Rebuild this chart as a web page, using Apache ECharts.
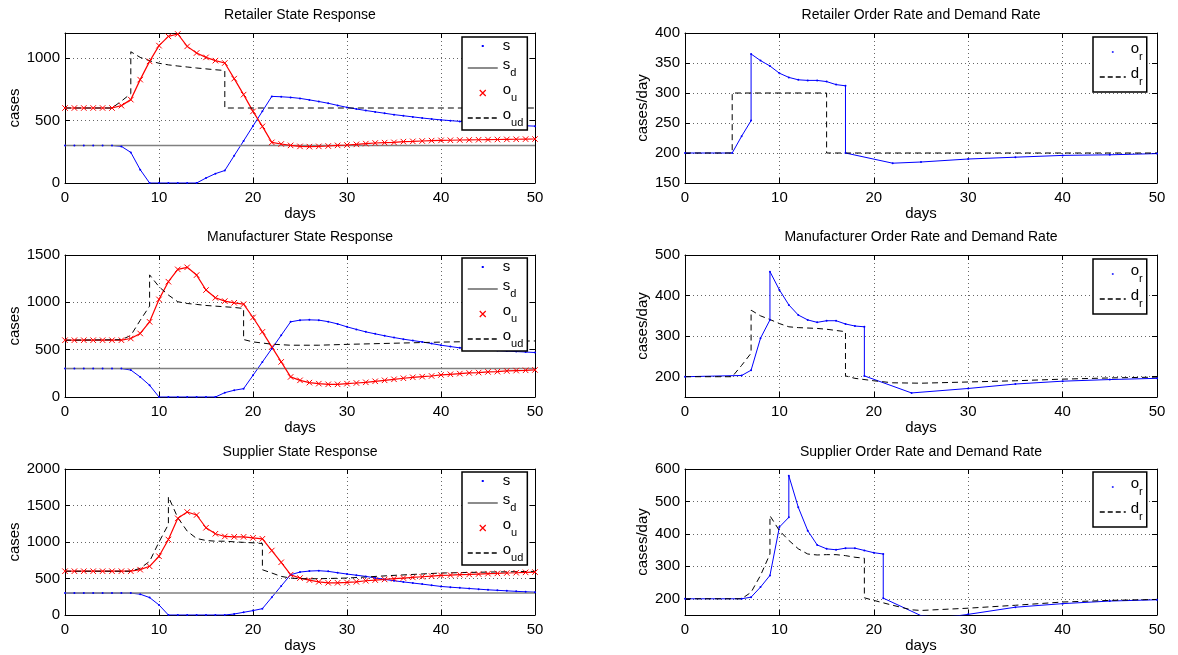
<!DOCTYPE html>
<html>
<head>
<meta charset="utf-8">
<script src="https://cdn.jsdelivr.net/npm/echarts@6/dist/echarts.min.js"></script>
<style>html,body{margin:0;padding:0;background:#fff}#c{width:1178px;height:655px}</style>
</head>
<body>
<div id="c"></div>
<script>
const FONT = '"Liberation Sans", Arial, Helvetica, sans-serif';

// ---------- shared axes data ----------
const days = [0,1,2,3,4,5,6,7,8,9,10,11,12,13,14,15,16,17,18,19,20,21,22,23,24,25,26,27,28,29,30,31,32,33,34,35,36,37,38,39,40,41,42,43,44,45,46,47,48,49,50];
const xTicks = [0,10,20,30,40,50];
const sdX = [0,50];
const sdLevel = [300,300];

// ---------- Retailer ----------
const retStateTicks = [0,500,1000];
const retS  = [300,300,300,300,300,300,293,245,107,0,0,0,0,0,0,40,75,100,219,337,456,574,693,690,685,677,665,652,638,621,605,592,580,569,558,547,538,529,520,512,505,499,493,487,481,475,470,466,462,458,455];
const retOu = [600,600,600,600,600,600,619,667,827,973,1099,1173,1192,1093,1040,1005,979,960,835,707,573,453,325,312,301,293,291,293,296,301,304,309,315,320,323,325,331,333,336,339,341,342,344,345,346,347,348,349,350,351,352];
const retOudX = [0,5,6,7,7,8,9,10,11,12,13,14,15,16,17,17,50];
const retOudY = [600,600,655,715,1050,1005,978,958,945,936,928,920,913,906,900,600,600];
const retRateTicks = [150,200,250,300,350,400];
const retOrX = [0,5,6,7,7,8,9,10,11,12,13,14,15,16,17,17,22,25,30,35,40,45,50];
const retOrY = [200,200,228,254,365,354,345,333,326,322,321,321,319,314,312,200,183,185,190,193,196,197,199];
const retDrX = [0,5,5,15,15,50];
const retDrY = [200,200,300,300,200,200];

// ---------- Manufacturer ----------
const manStateTicks = [0,500,1000,1500];
const manS  = [300,300,300,300,300,300,300,285,212,124,0,0,0,0,0,0,0,46,71,88,229,370,511,652,794,812,815,812,796,772,741,714,688,667,647,628,611,596,582,564,547,533,519,511,503,496,490,485,480,475,470];
const manOu = [600,600,600,600,600,600,600,618,671,794,1031,1218,1348,1370,1288,1130,1048,1013,995,981,840,688,529,371,212,176,152,141,134,134,141,148,155,166,176,187,198,208,215,222,233,240,247,254,258,265,268,275,279,282,286];
const manOudX = [0,6,7,8,9,9,10,11,12,13,14,15,16,17,18,19,19,20,22,24,27,30,35,40,45,50];
const manOudY = [600,605,650,810,960,1290,1165,1077,1006,988,978,967,960,953,946,935,607,582,558,547,547,556,568,580,588,592];
const manRateTicks = [200,300,400,500];
const manOrX = [0,6,7,8,9,9,10,11,12,13,14,15,16,17,18,19,19,24,30,35,40,45,50];
const manOrY = [200,203,216,295,340,459,414,377,352,340,334,338,338,330,325,323,202,160,171,182,189,193,196];
const manDrX = [0,5,6,7,7,8,9,10,11,12,13,14,15,16,17,17,18,20,22,25,30,35,40,45,50];
const manDrY = [200,200,228,258,364,350,341,331,323,321,320,319,317,314,311,202,196,190,185,184,187,190,194,197,199];

// ---------- Supplier ----------
const supStateTicks = [0,500,1000,1500,2000];
const supS  = [300,300,300,300,300,300,300,300,285,239,138,0,0,0,0,0,0,0,14,37,60,87,242,397,552,588,602,607,598,579,561,545,529,508,488,469,453,438,423,407,391,381,372,363,354,345,338,331,324,318,313];
const supOu = [600,600,600,600,600,600,600,600,621,667,805,1034,1324,1411,1370,1195,1113,1076,1071,1071,1057,1044,883,722,552,506,478,455,441,441,446,455,469,478,487,497,506,515,524,533,543,547,552,556,561,566,570,575,579,584,588];
const supOudX = [0,7,8,9,10,11,11,12,13,14,15,16,17,18,19,20,21,21,22,23,24,25,27,30,35,40,45,50];
const supOudY = [600,600,640,735,1000,1241,1620,1333,1149,1048,1021,1011,1011,1002,995,989,979,620,575,529,506,497,497,506,543,575,588,598];
const supRateTicks = [200,300,400,500,600];
const supOrX = [0,6,7,8,9,10,11,11,12,13,14,15,16,17,18,19,20,21,21,25,26,27,28,29,30,35,40,45,50];
const supOrY = [200,200,205,236,272,421,451,579,482,410,366,354,351,356,356,349,342,338,202,148,145,144,145,148,152,174,185,193,197];
const supDrX = [0,6,7,8,9,9,10,11,12,13,14,15,16,17,18,19,19,20,22,24,25,30,35,40,45,50];
const supDrY = [200,200,220,272,338,456,410,380,354,338,335,336,336,333,328,325,203,195,180,166,164,171,180,190,195,198];

// ---------- layout (not data) ----------
const L = {left:65, right:685, wL:470, wR:472};
const rows = [{top:33,h:150,tg:11,lt:37,rt:37},{top:255,h:142,tg:11,lt:258,rt:259},{top:469,h:146,tg:10,lt:472,rt:472}];

const panels = [
  {title:'Retailer State Response', col:0, row:0, yName:'cases', yMin:0, yMax:1200, yTicks:retStateTicks,
   series:[['s','dot',days,retS],['s_d','ref',sdX,sdLevel],['o_u','cross',days,retOu],['o_ud','dash',retOudX,retOudY]]},
  {title:'Retailer Order Rate and Demand Rate', col:1, row:0, yName:'cases/day', yMin:150, yMax:400, yTicks:retRateTicks,
   series:[['o_r','dot',retOrX,retOrY],['d_r','dash',retDrX,retDrY]]},
  {title:'Manufacturer State Response', col:0, row:1, yName:'cases', yMin:0, yMax:1500, yTicks:manStateTicks,
   series:[['s','dot',days,manS],['s_d','ref',sdX,sdLevel],['o_u','cross',days,manOu],['o_ud','dash',manOudX,manOudY]]},
  {title:'Manufacturer Order Rate and Demand Rate', col:1, row:1, yName:'cases/day', yMin:150, yMax:500, yTicks:manRateTicks,
   series:[['o_r','dot',manOrX,manOrY],['d_r','dash',manDrX,manDrY]]},
  {title:'Supplier State Response', col:0, row:2, yName:'cases', yMin:0, yMax:2000, yTicks:supStateTicks,
   series:[['s','dot',days,supS],['s_d','ref',sdX,sdLevel],['o_u','cross',days,supOu],['o_ud','dash',supOudX,supOudY]]},
  {title:'Supplier Order Rate and Demand Rate', col:1, row:2, yName:'cases/day', yMin:150, yMax:600, yTicks:supRateTicks,
   series:[['o_r','dot',supOrX,supOrY],['d_r','dash',supDrX,supDrY]]}
];

const X_SYMBOL = 'path://M0,0 L10,10 M10,0 L0,10';
const DOT_ICON = 'path://M0,0 L0.01,0 M30,10 L29.99,10 M14,4 L16,4 L16,6 L14,6 Z';
const X_ICON = 'path://M0,0 L0.01,0 M30,10 L29.99,10 M12,2 L18,8 M18,2 L12,8';

function seriesStyle(kind){
  if(kind==='dot') return {symbol:'circle', symbolSize:2, showSymbol:true, lineStyle:{color:'#0000ff', width:1}, itemStyle:{color:'#0000ff', borderWidth:0}};
  if(kind==='ref') return {symbol:'none', lineStyle:{color:'#808080', width:1.5}, itemStyle:{color:'#808080'}};
  if(kind==='cross') return {symbol:X_SYMBOL, symbolSize:5.5, showSymbol:true, lineStyle:{color:'#ff0000', width:1.2}, itemStyle:{color:'#ff0000', borderColor:'#ff0000', borderWidth:1}};
  return {symbol:'none', lineStyle:{color:'#000', width:1, type:[6,4]}, itemStyle:{color:'#000'}};
}
function legendItem(name, kind){
  if(kind==='dot') return {name, icon:DOT_ICON, itemStyle:{color:'#0000ff', borderWidth:0}};
  if(kind==='cross') return {name, icon:X_ICON, itemStyle:{color:'transparent', borderColor:'#ff0000', borderWidth:1.2}};
  if(kind==='ref') return {name, itemStyle:{opacity:0}, lineStyle:{color:'#666', width:1.5, type:'solid'}};
  return {name, itemStyle:{opacity:0}, lineStyle:{color:'#000', width:1.5, type:[5,3]}};
}

const txt = {fontFamily:FONT, color:'#000'};
const plain = v => String(v);
const option = {animation:false, backgroundColor:'#fff', grid:[], xAxis:[], yAxis:[], series:[], legend:[]};

panels.forEach((p, gi) => {
  const r = rows[p.row];
  const left = p.col===0 ? L.left : L.right;
  const width = p.col===0 ? L.wL : L.wR;
  option.grid.push({left, top:r.top, width, height:r.h, show:false});
  const axLine = {show:true, onZero:false, lineStyle:{color:'#000', width:1}};
  const tick = vals => ({show:true, inside:true, length:5, lineStyle:{color:'#000', width:1}, customValues:vals});
  const grid = {show:true, lineStyle:{color:'#666', width:1, type:[1,3]}};
  option.xAxis.push({gridIndex:gi, type:'value', position:'bottom', min:0, max:50,
    axisLine:axLine, axisTick:tick(xTicks), splitLine:grid,
    axisLabel:Object.assign({customValues:xTicks, fontSize:15, margin:7, formatter:plain}, txt),
    name:'days', nameLocation:'middle', nameGap:20, nameTextStyle:Object.assign({fontSize:15}, txt)});
  option.xAxis.push({gridIndex:gi, type:'value', position:'top', min:0, max:50,
    axisLine:axLine, axisTick:tick(xTicks), splitLine:{show:false}, axisLabel:{show:false},
    name:p.title, nameLocation:'middle', nameGap:r.tg, nameTextStyle:Object.assign({fontSize:14}, txt)});
  option.yAxis.push({gridIndex:gi, type:'value', position:'left', min:p.yMin, max:p.yMax,
    axisLine:axLine, axisTick:tick(p.yTicks), splitLine:grid,
    axisLabel:Object.assign({customValues:p.yTicks, fontSize:15, margin:5, formatter:plain}, txt),
    name:p.yName, nameLocation:'middle', nameGap:p.col===0?39:35, nameTextStyle:Object.assign({fontSize:15}, txt)});
  option.yAxis.push({gridIndex:gi, type:'value', position:'right', min:p.yMin, max:p.yMax,
    axisLine:axLine, axisTick:tick(p.yTicks), splitLine:{show:false}, axisLabel:{show:false}});
  p.series.forEach(([name, kind, xs, ys]) => {
    option.series.push(Object.assign({type:'line', name, xAxisIndex:2*gi, yAxisIndex:2*gi,
      data: xs.map((x,i)=>[x, ys[i]]), silent:true, clip:true, emphasis:{disabled:true}}, seriesStyle(kind)));
  });
  option.legend.push({
    orient:'vertical', left: p.col===0 ? 462 : 1093, top: p.col===0 ? r.lt : r.rt,
    itemWidth: p.col===0 ? 30 : 26, itemHeight:10, itemGap:4,
    padding: p.col===0 ? [1.5,4,1.5,5] : [4.5,4,4.5,6],
    backgroundColor:'#fff', borderColor:'#000', borderWidth:1.5, selectedMode:false,
    data: p.series.map(([name, kind]) => legendItem(name, kind)),
    formatter: name => { const parts = name.split('_'); return parts[1] ? '{m|'+parts[0]+'}{sub|'+parts[1]+'}' : '{c|'+parts[0]+'}'; },
    textStyle:{fontFamily:FONT, fontSize:15, color:'#000', rich:{
      m:{fontFamily:FONT, fontSize:15, color:'#000', verticalAlign:'top'},
      sub:{fontFamily:FONT, fontSize:11, color:'#000', verticalAlign:'top', padding:[10,0,0,0]},
      c:{fontFamily:FONT, fontSize:15, color:'#000', lineHeight:21}
    }}
  });
});

const chart = echarts.init(document.getElementById('c'), null, {renderer:'canvas'});
chart.setOption(option);
</script>
</body>
</html>
